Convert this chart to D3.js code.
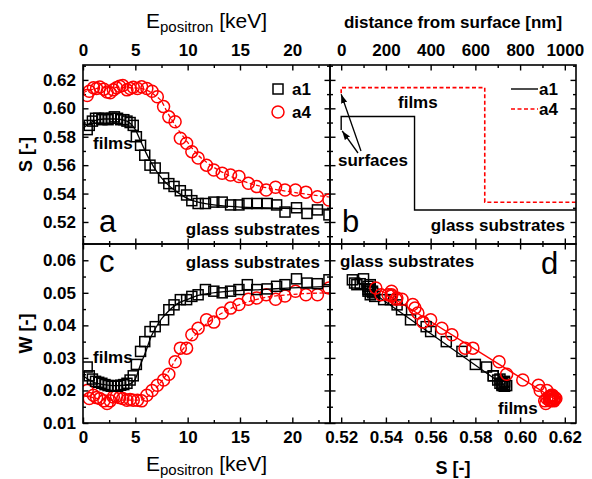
<!DOCTYPE html>
<html>
<head>
<meta charset="utf-8">
<script src="https://cdn.jsdelivr.net/npm/d3@7"></script>
<style>
  body { margin: 0; background: #fff; }
  text { font-family: 'Liberation Sans', Arial, Helvetica, sans-serif; }
</style>
</head>
<body>
<div id="chart"></div>
<script>
// ---- data ----
// sample a1 (squares): implantation energy [keV], S and W parameters
var a1E = [0.4, 0.6, 0.9, 1.2, 1.5, 1.8, 2.1, 2.4, 2.7, 3.0, 3.3, 3.6, 3.9, 4.2, 4.5, 4.8,
           5.1, 5.5, 5.9, 6.4, 6.9, 7.7, 8.2, 8.7, 9.3, 9.9, 10.4, 11.0, 11.7, 12.5, 13.3,
           14.1, 14.9, 15.7, 16.6, 17.6, 18.5, 19.3, 20.4, 21.4, 22.4, 23.5];
var a1S = [0.585, 0.588, 0.591, 0.593, 0.593, 0.592, 0.593, 0.592, 0.593, 0.594, 0.593, 0.592, 0.592, 0.591, 0.590, 0.588,
           0.580, 0.574, 0.567, 0.560, 0.558, 0.551, 0.547, 0.545, 0.542, 0.539, 0.535, 0.533, 0.533, 0.534, 0.534,
           0.532, 0.532, 0.533, 0.533, 0.533, 0.532, 0.527, 0.530, 0.526, 0.5285, 0.525];
var a1W = [0.0272, 0.0245, 0.0235, 0.0228, 0.0225, 0.0222, 0.0218, 0.0215, 0.0213, 0.0215, 0.0213, 0.0216, 0.0218, 0.0222, 0.0232, 0.0245,
           0.0280, 0.0320, 0.0350, 0.0381, 0.0396, 0.0417, 0.0448, 0.0463, 0.0479, 0.0479, 0.0489, 0.0494, 0.0510, 0.0505, 0.0500,
           0.0505, 0.0510, 0.0525, 0.0510, 0.0512, 0.0520, 0.0525, 0.0543, 0.0530, 0.0528, 0.0540];

// sample a4 (circles)
var a4E = [0.4, 0.6, 1.0, 1.3, 1.6, 2.0, 2.3, 2.6, 2.9, 3.2, 3.5, 3.8, 4.2, 4.5, 4.8, 5.2, 5.6,
           6.1, 6.6, 7.1, 7.7, 8.2, 8.8, 9.3, 9.9, 10.4, 11.0, 11.8, 12.5, 13.3, 14.1, 14.9,
           15.8, 16.6, 17.5, 18.4, 19.3, 20.3, 21.3, 22.4, 23.5];
var a4S = [0.609, 0.612, 0.6145, 0.614, 0.615, 0.6135, 0.6115, 0.611, 0.613, 0.6145, 0.6155, 0.616, 0.613, 0.614, 0.6148, 0.614, 0.6152,
           0.614, 0.612, 0.6082, 0.6012, 0.594, 0.5906, 0.5789, 0.5754, 0.5695, 0.565, 0.560, 0.5566, 0.5543, 0.553, 0.552,
           0.5472, 0.5449, 0.5425, 0.5445, 0.5425, 0.5425, 0.541, 0.5378, 0.5355];
var a4W = [0.0200, 0.0175, 0.0185, 0.0178, 0.0175, 0.0168, 0.0160, 0.0168, 0.0180, 0.0182, 0.0178, 0.0175, 0.0170, 0.0172, 0.0170, 0.0170, 0.0168,
           0.0185, 0.0200, 0.0216, 0.0232, 0.0250, 0.0288, 0.0330, 0.0330, 0.0371, 0.0391, 0.0417, 0.0410, 0.0438, 0.0453, 0.0464,
           0.0480, 0.0484, 0.0494, 0.0480, 0.0490, 0.0505, 0.0494, 0.0494, 0.0515];

// fitted curves (lines through the markers)
var fitE = [0, 1, 2, 3, 4, 4.5, 5, 5.5, 6, 6.5, 7, 7.5, 8, 9, 10, 11, 12, 14, 17, 20, 23.6];
var fitA1S = [0.586, 0.591, 0.5925, 0.5925, 0.5915, 0.5895, 0.585, 0.577, 0.569, 0.562, 0.556, 0.551, 0.547, 0.541, 0.5365, 0.534, 0.5325, 0.531, 0.530, 0.5295, 0.529];
var fitA1W = [0.0245, 0.0225, 0.0218, 0.0215, 0.0216, 0.022, 0.0235, 0.028, 0.032, 0.0365, 0.0395, 0.042, 0.0438, 0.0466, 0.048, 0.0492, 0.0498, 0.0505, 0.051, 0.0515, 0.052];
var fitA4S = [0.611, 0.6135, 0.6145, 0.6147, 0.6147, 0.6145, 0.6143, 0.614, 0.613, 0.6112, 0.6085, 0.605, 0.598, 0.586, 0.576, 0.567, 0.561, 0.5525, 0.545, 0.541, 0.5375];
var fitA4W = [0.0185, 0.0178, 0.0172, 0.017, 0.017, 0.017, 0.017, 0.017, 0.0178, 0.019, 0.0208, 0.0228, 0.025, 0.0302, 0.0345, 0.038, 0.041, 0.045, 0.0483, 0.0495, 0.050];

// panel b: depth profiles (surface, film, substrate S) and film thickness [nm]
var a1LayerS = [0.5848, 0.5942, 0.5284];
var a4LayerS = [0.6106, 0.6146, 0.5339];
var filmThickness = [328, 642];

// panel d: straight lines through W(S)
var dLineA1S = [0.527, 0.594], dLineA1W = [0.0535, 0.021];
var dLineA4S = [0.536, 0.6163], dLineA4W = [0.0515, 0.017];

// tick values
var eMajor = [0, 5, 10, 15, 20], eMinor = [2.5, 7.5, 12.5, 17.5, 22.5];
var sMajor = [0.52, 0.54, 0.56, 0.58, 0.60, 0.62], sMinor = [0.51, 0.53, 0.55, 0.57, 0.59, 0.61, 0.63];
var wMajor = [0.01, 0.02, 0.03, 0.04, 0.05, 0.06], wMinor = [0.015, 0.025, 0.035, 0.045, 0.055];
var dMajor = [0, 200, 400, 600, 800, 1000], dMinor = [100, 300, 500, 700, 900];
var sxMajor = [0.52, 0.54, 0.56, 0.58, 0.60, 0.62], sxMinor = [0.53, 0.55, 0.57, 0.59, 0.61];

// ---- layout ----
var width = 592, height = 479;
var L = 83, M = 330, R = 576, T = 65, C = 244, B = 423;
var red = "#ff0000";

var svg = d3.select("#chart").append("svg")
    .attr("width", width)
    .attr("height", height);

var xE = d3.scaleLinear().domain([0, 23.6]).range([L, M]);
var xDist = d3.scaleLinear().domain([-50, 1050]).range([M, R]);
var xS = d3.scaleLinear().domain([0.515, 0.625]).range([M, R]);
var yS = d3.scaleLinear().domain([0.5045, 0.6305]).range([C, T]);
var yW = d3.scaleLinear().domain([0.01, 0.065]).range([B, C]);

var f2 = d3.format(".2f"), fd = d3.format("d");

function axis(gen, scale, major, minor, fmt, tx, ty, pad) {
    var g1 = svg.append("g").attr("transform", "translate(" + tx + "," + ty + ")")
        .call(gen(scale).tickValues(minor).tickSize(-3).tickFormat(""));
    var g2 = svg.append("g").attr("transform", "translate(" + tx + "," + ty + ")")
        .call(gen(scale).tickValues(major).tickSize(-5.5).tickPadding(pad || 3).tickFormat(fmt || ""));
    [g1, g2].forEach(function(g) {
        g.select(".domain").remove();
        g.selectAll(".tick line").attr("stroke", "#000").attr("stroke-width", 1.4);
        g.selectAll(".tick text")
            .attr("fill", "#000")
            .style("font-size", "17px")
            .style("font-weight", "bold")
            .style("font-family", "'Liberation Sans', Arial, sans-serif");
    });
}

// panel a
axis(d3.axisTop, xE, eMajor, eMinor, fd, 0, T, 9);
axis(d3.axisBottom, xE, eMajor, eMinor, null, 0, C);
axis(d3.axisLeft, yS, sMajor, sMinor, f2, L, 0, 7);
axis(d3.axisRight, yS, sMajor, sMinor, null, M, 0);
// panel b
axis(d3.axisTop, xDist, dMajor, dMinor, fd, 0, T, 9);
axis(d3.axisBottom, xDist, dMajor, dMinor, null, 0, C);
axis(d3.axisLeft, yS, sMajor, sMinor, null, M, 0);
axis(d3.axisRight, yS, sMajor, sMinor, null, R, 0);
// panel c
axis(d3.axisBottom, xE, eMajor, eMinor, fd, 0, B, 8);
axis(d3.axisTop, xE, eMajor, eMinor, null, 0, C);
axis(d3.axisLeft, yW, wMajor, wMinor, f2, L, 0, 7);
axis(d3.axisRight, yW, wMajor, wMinor, null, M, 0);
// panel d
axis(d3.axisBottom, xS, sxMajor, sxMinor, f2, 0, B, 8);
axis(d3.axisTop, xS, sxMajor, sxMinor, null, 0, C);
axis(d3.axisLeft, yW, wMajor, wMinor, null, M, 0);
axis(d3.axisRight, yW, wMajor, wMinor, null, R, 0);

// clip paths per panel
var defs = svg.append("defs");
function clip(id, x0, y0, x1, y1) {
    defs.append("clipPath").attr("id", id).append("rect")
        .attr("x", x0).attr("y", y0).attr("width", x1 - x0).attr("height", y1 - y0);
}
clip("ca", L, T, M, C);
clip("cb", M, T, R, C);
clip("cc", L, C, M, B);
clip("cd", M, C, R, B);

defs.append("marker")
    .attr("id", "arrow")
    .attr("viewBox", "0 0 10 10")
    .attr("refX", 10).attr("refY", 5)
    .attr("markerWidth", 9).attr("markerHeight", 9)
    .attr("orient", "auto")
    .attr("markerUnits", "userSpaceOnUse")
    .append("path").attr("d", "M0,1.5L10,5L0,8.5Z").attr("fill", "#000");

function squares(g, xs, ys, xsc, ysc) {
    g.selectAll(null).data(d3.range(xs.length)).join("rect")
        .attr("x", function(i) { return xsc(xs[i]) - 5; })
        .attr("y", function(i) { return ysc(ys[i]) - 5; })
        .attr("width", 10).attr("height", 10)
        .attr("fill", "none").attr("stroke", "#000").attr("stroke-width", 1.5);
}
function circles(g, xs, ys, xsc, ysc) {
    g.selectAll(null).data(d3.range(xs.length)).join("circle")
        .attr("cx", function(i) { return xsc(xs[i]); })
        .attr("cy", function(i) { return ysc(ys[i]); })
        .attr("r", 6)
        .attr("fill", "none").attr("stroke", red).attr("stroke-width", 1.5);
}
function curve(g, xs, ys, xsc, ysc, color, dash, c) {
    var line = d3.line()
        .x(function(i) { return xsc(xs[i]); })
        .y(function(i) { return ysc(ys[i]); })
        .curve(c || d3.curveMonotoneX);
    g.append("path").attr("d", line(d3.range(xs.length)))
        .attr("fill", "none").attr("stroke", color).attr("stroke-width", 1.3)
        .attr("stroke-dasharray", dash || null);
}

// panel a: S vs E
var ga = svg.append("g").attr("clip-path", "url(#ca)");
circles(ga, a4E, a4S, xE, yS);
squares(ga, a1E, a1S, xE, yS);
curve(ga, fitE, fitA4S, xE, yS, red, "4,2.5");
curve(ga, fitE, fitA1S, xE, yS, "#000");

// panel c: W vs E
var gc = svg.append("g").attr("clip-path", "url(#cc)");
circles(gc, a4E, a4W, xE, yW);
squares(gc, a1E, a1W, xE, yW);
curve(gc, fitE, fitA4W, xE, yW, red, "4,2.5");
curve(gc, fitE, fitA1W, xE, yW, "#000");

// panel d: W vs S
var gd = svg.append("g").attr("clip-path", "url(#cd)");
curve(gd, dLineA1S, dLineA1W, xS, yW, "#000", null, d3.curveLinear);
curve(gd, dLineA4S, dLineA4W, xS, yW, red, null, d3.curveLinear);
squares(gd, a1S, a1W, xS, yW);
circles(gd, a4S, a4W, xS, yW);

// panel b: step profiles
var gb = svg.append("g").attr("clip-path", "url(#cb)");
function profile(layerS, thick) {
    var end = xDist.domain()[1];
    return [[0, layerS[0]], [0, layerS[1]], [thick, layerS[1]], [thick, layerS[2]], [end, layerS[2]]];
}
var stepLine = d3.line()
    .x(function(d) { return xDist(d[0]); })
    .y(function(d) { return yS(d[1]); });
gb.append("path").attr("d", stepLine(profile(a4LayerS, filmThickness[1])))
    .attr("fill", "none").attr("stroke", red).attr("stroke-width", 1.6).attr("stroke-dasharray", "4,2.5");
gb.append("path").attr("d", stepLine(profile(a1LayerS, filmThickness[0])))
    .attr("fill", "none").attr("stroke", "#000").attr("stroke-width", 1.4);

// arrows to the surface values
svg.append("line")
    .attr("x1", 361).attr("y1", 151).attr("x2", xDist(0)).attr("y2", yS(a4LayerS[0]) + 1)
    .attr("stroke", "#000").attr("stroke-width", 1.3).attr("marker-end", "url(#arrow)");
svg.append("line")
    .attr("x1", 358).attr("y1", 153).attr("x2", xDist(0) + 1).attr("y2", yS(a1LayerS[0]) + 1)
    .attr("stroke", "#000").attr("stroke-width", 1.3).attr("marker-end", "url(#arrow)");

// frames
[[L, T, M, C], [M, T, R, C], [L, C, M, B], [M, C, R, B]].forEach(function(p) {
    svg.append("rect")
        .attr("x", p[0]).attr("y", p[1]).attr("width", p[2] - p[0]).attr("height", p[3] - p[1])
        .attr("fill", "none").attr("stroke", "#000").attr("stroke-width", 1.6);
});

// legends
svg.append("rect").attr("x", 273).attr("y", 84).attr("width", 10).attr("height", 10)
    .attr("fill", "none").attr("stroke", "#000").attr("stroke-width", 1.5);
svg.append("circle").attr("cx", 278).attr("cy", 112).attr("r", 6)
    .attr("fill", "none").attr("stroke", red).attr("stroke-width", 1.5);
svg.append("line").attr("x1", 511).attr("x2", 538).attr("y1", 89).attr("y2", 89)
    .attr("stroke", "#000").attr("stroke-width", 1.4);
svg.append("line").attr("x1", 511).attr("x2", 538).attr("y1", 109).attr("y2", 109)
    .attr("stroke", red).attr("stroke-width", 1.6).attr("stroke-dasharray", "4,2.5");

function label(x, y, txt, size, weight, anchor) {
    return svg.append("text").attr("x", x).attr("y", y)
        .attr("text-anchor", anchor || "start")
        .style("font-size", size + "px")
        .style("font-weight", weight || "bold")
        .text(txt);
}
label(292, 95, "a1", 17);
label(292, 118, "a4", 17);
label(539, 95, "a1", 17);
label(539, 115, "a4", 17);

// annotations
label(93, 149, "films", 17);
label(320, 235, "glass substrates", 17, "bold", "end");
label(398, 108, "films", 17);
label(338, 166, "surfaces", 17);
label(565, 231, "glass substrates", 17, "bold", "end");
label(320, 268, "glass substrates", 17, "bold", "end");
label(93, 363, "films", 17);
label(340, 267, "glass substrates", 17);
label(498, 414, "films", 17);

label(99, 232, "a", 31, "normal");
label(342, 232, "b", 31, "normal");
label(99, 272, "c", 31, "normal");
label(541, 274, "d", 31, "normal");

// axis titles
function eTitle(y) {
    var t = svg.append("text").attr("x", (L + M) / 2).attr("y", y)
        .attr("text-anchor", "middle")
        .style("font-size", "21px");
    t.append("tspan").text("E");
    t.append("tspan").attr("dy", 4).style("font-size", "15px").text("positron");
    t.append("tspan").attr("dy", -4).text(" [keV]");
}
eTitle(28);
eTitle(471);
label((M + R) / 2, 474, "S [-]", 18, "bold", "middle");
label((M + R) / 2, 28, "distance from surface [nm]", 17, "bold", "middle");
svg.append("text").attr("transform", "translate(32," + (T + C) / 2 + ") rotate(-90)")
    .attr("text-anchor", "middle").style("font-size", "18px").style("font-weight", "bold").text("S [-]");
svg.append("text").attr("transform", "translate(32," + (C + B) / 2 + ") rotate(-90)")
    .attr("text-anchor", "middle").style("font-size", "18px").style("font-weight", "bold").text("W [-]");
</script>
</body>
</html>
